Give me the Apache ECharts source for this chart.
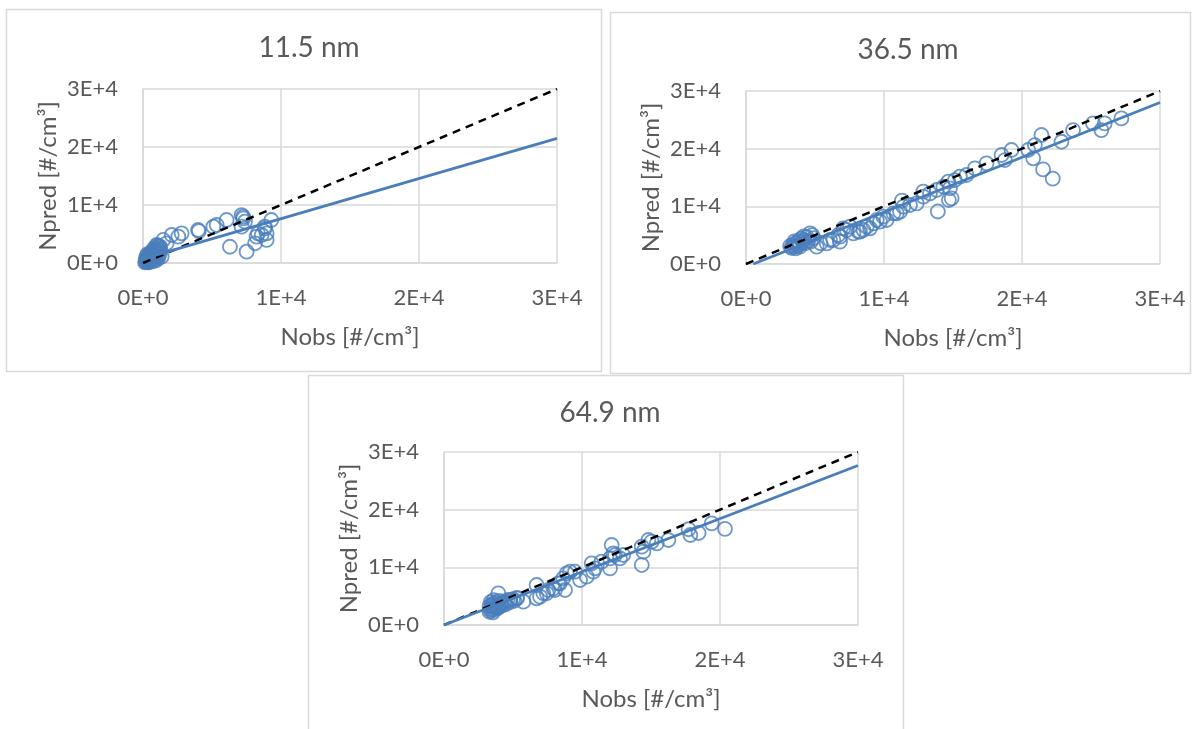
<!DOCTYPE html>
<html>
<head>
<meta charset="utf-8">
<script src="https://cdn.jsdelivr.net/npm/echarts@6/dist/echarts.min.js"></script>
<style>
html,body{margin:0;padding:0;background:#fff;}
#chart{width:1193px;height:729px;}
</style>
</head>
<body>
<div id="chart"></div>
<script>
// ---- data ----
var titles = ['11.5 nm', '36.5 nm', '64.9 nm'];
var xTickLabels = ['0E+0', '1E+4', '2E+4', '3E+4'];
var yTickLabels = ['0E+0', '1E+4', '2E+4', '3E+4'];
var xName = 'Nobs [#/cm³]';
var yName = 'Npred [#/cm³]';

var pts115 = [
  [200,200],[300,600],[350,300],[400,900],[450,500],[500,1200],[550,800],[600,400],[650,1500],[700,1000],
  [750,1900],[800,700],[850,1300],[900,2200],[950,1700],[1000,2600],[1050,1100],[1100,2000],[1150,2900],[1200,1500],
  [1250,2400],[400,1400],[600,1900],[300,1100],[800,2500],[1000,3000],
  [150,100],[250,400],[350,700],[450,200],[550,1100],[650,600],[750,300],[850,900],[950,500],[500,1600],
  [300,1500],[700,2100],[200,800],[600,1300],[900,1000],[400,100],[1100,800],[1200,2100],[700,1700],[300,200],
  [1350,1090],[1230,2810],[990,3110],[1470,3970],[1710,3400],[2080,4830],[2560,4540],[2800,5120],[3990,5690],[4050,5500],
  [5100,6260],[5340,6550],[6060,7410],[7140,8270],[7270,7700],[7390,7120],[7140,6260],[7250,7990],[6300,2800],[7510,1950],
  [9300,7410],[8840,5980],[8960,5120],[8600,4830],[8230,4540],[8120,3400],[8960,3970],[8330,5120],[8820,6260]
];
var pts365 = [
  [3300,2800],[3400,3300],[3500,3000],[3600,3600],[3700,3200],[3800,4000],[3900,3500],[4000,4400],[4100,3800],[4200,4200],
  [4300,3600],[4400,4700],[4500,4000],[4640,5320],[4800,5000],[4900,4500],[3500,3900],[3900,3000],[4200,4800],[4700,3900],
  [3200,3100],[3600,2700],
  [5120,3000],[5400,3600],[5850,3580],[6090,4160],[6330,4160],[6690,5030],[6810,4740],[6810,3870],[7050,6180],[7300,5900],
  [7540,6470],[7780,5320],[8150,5600],[8260,5610],[8510,5900],[8750,6470],[8990,6190],[9230,7050],[9470,7630],[9710,7340],
  [9950,8210],[10190,7630],[10680,8790],[10920,8790],[11160,9080],[11300,11000],[11400,9940],[11880,10230],[12370,10520],
  [12850,11670],[12850,12540],[13330,12250],[13810,12830],[14300,13400],[14660,14270],[14780,13130],[13900,9100],[14700,11100],
  [14900,11390],[15140,14560],[15500,15140],[15980,15430],[16590,16590],[17430,17460],[18520,18900],[18760,18030],[19240,19770],
  [20450,19770],[20810,18330],[20930,20630],[21410,22370],[21530,16400],[22230,14800],[22860,21200],[23700,23220],[25150,24380],
  [25750,23220],[25990,24380],[27200,25250]
];
var pts649 = [
  [3300,2300],[3400,2800],[3500,3100],[3500,3600],[3600,2600],[3700,3900],[3700,3300],[3800,3000],[3900,3500],[4000,4200],
  [4000,3200],[4100,3700],[4200,3400],[4300,4000],[4400,3800],[4500,3600],[4600,4300],[4800,4000],[5000,4500],[5100,4200],
  [5300,4700],[3400,4000],[3600,4300],[3300,3300],[3900,2900],[3940,5500],[3350,2600],[3450,3400],[3550,2200],[3650,3000],
  [4780,4340],[5270,4630],[5750,4040],[6710,6940],[6710,4630],[6960,4910],[7200,5500],[7440,5500],[7560,6070],[7920,6360],
  [8040,6070],[8280,7230],[8400,7230],[8640,8100],[8770,6070],[8890,8960],[9130,9240],[9490,9240],[9860,7800],[10340,8380],
  [10700,10700],[10820,9240],[10940,9830],[11420,10980],[12030,11560],[12030,9830],[12150,13870],[12270,12430],[12390,12140],
  [12750,11560],[12990,12140],[14330,13580],[14330,10400],[14450,12720],[14810,14740],[15050,14450],[15420,14160],[16260,14740],
  [17720,16600],[17850,15610],[18450,15950],[19400,17630],[20360,16680]
];
var oneToOne = [[0,0],[30000,30000]];
var fit115 = [[0,720],[30000,21500]];
var fit365 = [[530,0],[30000,28000]];
var fit649 = [[0,0],[30000,27650]];

var panels = [
  {pts: pts115, fit: fit115},
  {pts: pts365, fit: fit365},
  {pts: pts649, fit: fit649}
];

// ---- layout / style ----
var gridPos = [
  {left:143, top:89, width:414, height:174},
  {left:746, top:91, width:414, height:173},
  {left:444, top:452, width:414, height:173}
];
var titlePos = [[304,29],[903,31],[605,394]];
var boxes = [[6,9,595,362],[610,12,580,361],[308,375,595,370]];
var TXT = '#595959';
var GRIDC = '#d9d9d9';
var BLUE = '#4a7ebb';
var FONT = 'Lato, "Open Sans", sans-serif';

function fmt(v){ return xTickLabels[Math.round(v/10000)]; }
function fmtY(v){ return yTickLabels[Math.round(v/10000)]; }

var option = {
  animation:false,
  backgroundColor:'#fff',
  title: titles.map(function(t,i){
    return {text:t, left:titlePos[i][0], top:titlePos[i][1], textAlign:'center',
      textStyle:{color:TXT, fontSize:28, fontWeight:'normal', fontFamily:FONT}};
  }),
  graphic: boxes.map(function(b){
    return {type:'rect', shape:{x:b[0]+0.5, y:b[1]+0.5, width:b[2], height:b[3]},
      style:{fill:'none', stroke:GRIDC, lineWidth:1.5}, z:-10, silent:true};
  }),
  grid: gridPos.map(function(g){ return Object.assign({containLabel:false}, g); }),
  xAxis: gridPos.map(function(g,i){
    return {type:'value', gridIndex:i, min:0, max:30000, interval:10000,
      name:xName, nameLocation:'middle', nameGap:62,
      nameTextStyle:{color:TXT, fontSize:24, fontFamily:FONT},
      axisLine:{show:true, lineStyle:{color:GRIDC, width:1.5}},
      axisTick:{show:false},
      axisLabel:{color:TXT, fontSize:22, fontFamily:FONT, margin:24, formatter:fmt},
      splitLine:{show:true, lineStyle:{color:GRIDC, width:1.5}}};
  }),
  yAxis: gridPos.map(function(g,i){
    return {type:'value', gridIndex:i, min:0, max:30000, interval:10000,
      name:yName, nameLocation:'middle', nameGap:83, nameRotate:90,
      nameTextStyle:{color:TXT, fontSize:24, fontFamily:FONT},
      axisLine:{show:true, lineStyle:{color:GRIDC, width:1.5}},
      axisTick:{show:false},
      axisLabel:{color:TXT, fontSize:22, fontFamily:FONT, margin:25, formatter:fmtY},
      splitLine:{show:true, lineStyle:{color:GRIDC, width:1.5}}};
  }),
  series: []
};

panels.forEach(function(p,i){
  option.series.push({type:'scatter', xAxisIndex:i, yAxisIndex:i, data:p.pts,
    symbol:'circle', symbolSize:14,
    itemStyle:{color:'rgba(0,0,0,0)', borderColor:BLUE, borderWidth:1.8}, z:2});
  option.series.push({type:'line', xAxisIndex:i, yAxisIndex:i, data:oneToOne,
    showSymbol:false, symbol:'none', clip:true,
    lineStyle:{color:'#000', width:2.5, type:[8,6]}, z:3});
  option.series.push({type:'line', xAxisIndex:i, yAxisIndex:i, data:p.fit,
    showSymbol:false, symbol:'none', clip:true,
    lineStyle:{color:BLUE, width:2.8}, z:4});
});

var chart = echarts.init(document.getElementById('chart'), null, {renderer:'canvas'});
chart.setOption(option);
</script>
</body>
</html>
